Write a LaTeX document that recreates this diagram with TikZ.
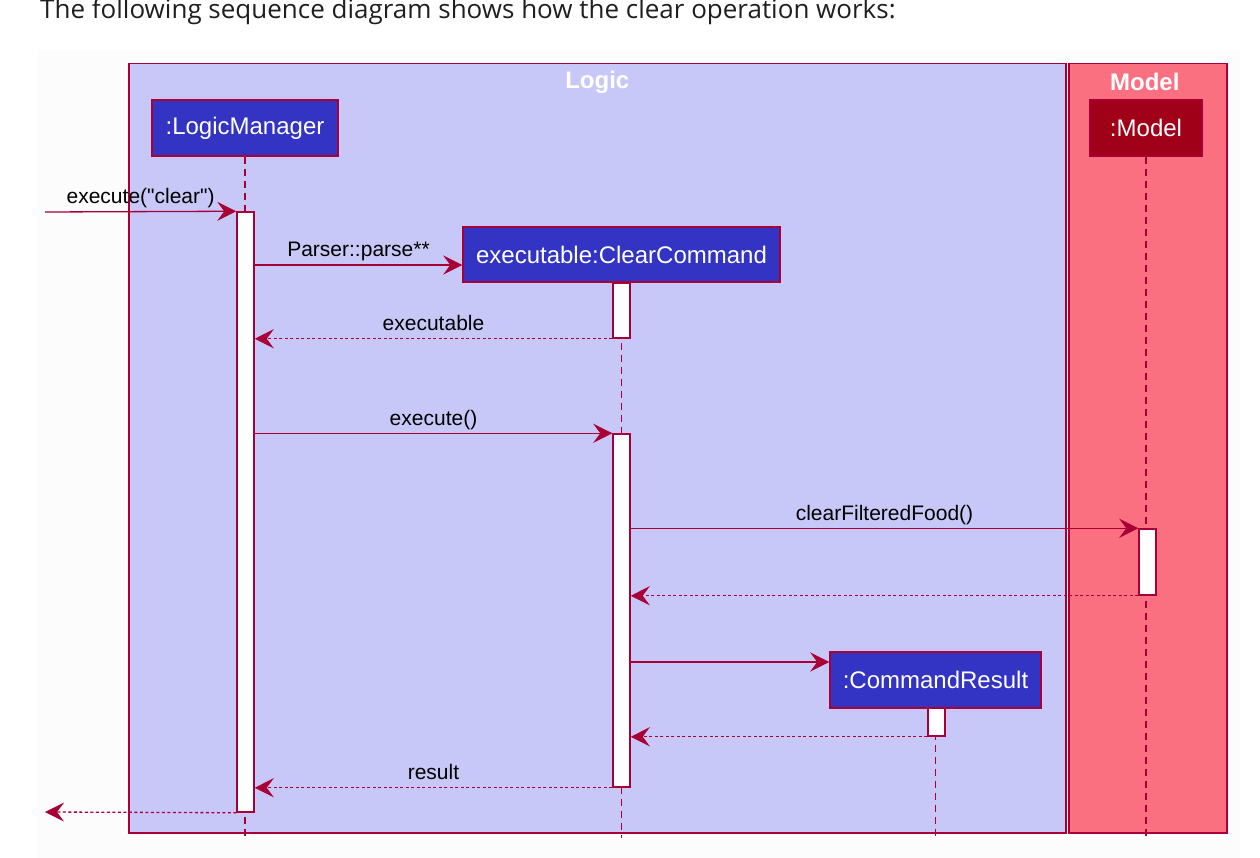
\documentclass[tikz,border=0pt]{standalone}
\usepackage{fontspec}
\setmainfont{Liberation Sans}
\newfontfamily\umlfont{Liberation Sans}
\newfontfamily\headfont{Open Sans}
\usetikzlibrary{arrows.meta}
\definecolor{umlred}{HTML}{A80036}
\definecolor{logicfill}{HTML}{C8C8F8}
\definecolor{modelfill}{HTML}{FA7080}
\definecolor{umlblue}{HTML}{3333C4}
\definecolor{umldark}{HTML}{A00018}
\begin{document}
\begin{tikzpicture}
		[x=1pt,y=-1pt,
		mybox/.style={draw=umlred,line width=1.5pt,fill=umlblue,text=white,inner sep=0pt,font=\umlfont\fontsize{24}{28}\selectfont},
		mygroup/.style={draw=umlred,line width=1.5pt,inner sep=0pt,anchor=north west},
		myact/.style={draw=umlred,line width=1.5pt,fill=white,inner sep=0pt,minimum width=17,minimum height=#1},
		mymsg/.style={draw=umlred,line width=1.3pt,-{Stealth[length=19pt,width=19pt,inset=7pt]}},
		myret/.style={mymsg,dash pattern=on 3pt off 2.5pt},
		mylife/.style={draw=umlred,line width=1.2pt,dash pattern=on 7pt off 5pt},
		mylabel/.style={midway,anchor=base,yshift=8pt,inner sep=0pt,font=\umlfont\fontsize{21}{25}\selectfont}]
		\useasboundingbox (0,0) rectangle (1260,858);
		\fill[white!99!black] (38,50) rectangle (1240,858);
		\node[anchor=base west,inner sep=0pt,text=black!88,font=\headfont\fontsize{26}{30}\selectfont,name=head] at (40,19)
			{The following sequence diagram shows how the clear operation works:};
		% groups
		\node[mygroup,fill=logicfill,minimum width=937,minimum height=769,name=logic] at (128,63) {};
		\node[mygroup,fill=modelfill,minimum width=158,minimum height=769,name=model] at (1068,63) {};
		\node[text=white,font=\umlfont\bfseries\fontsize{24}{28}\selectfont] at (logic.north) [yshift=-19pt] {Logic};
		\node[text=white,font=\umlfont\bfseries\fontsize{24}{28}\selectfont] at (model.north) [yshift=-19pt,xshift=-3pt] {Model};
		% participants
		\node[mybox,minimum width=186,minimum height=56,name=lm] at (245,128) {:LogicManager};
		\node[mybox,fill=umldark,minimum width=112,minimum height=56,name=md] at (1146,128) {:Model};
		\node[mybox,minimum width=317,minimum height=55,name=cc] at (621.5,254.5) {executable:ClearCommand};
		\node[mybox,minimum width=211,minimum height=56,name=cr] at (935.5,680) {:CommandResult};
		% lifelines
		\coordinate (bottom) at (0,838);
		\foreach \p in {lm,cc,cr,md}
		{
			\draw[mylife] (\p.south) -- (\p.south |- bottom);
		}
		% activations
		\node[myact=600,name=lmA] at (245.5,512) {};
		\node[myact=55,name=ccA1] at (621.5,310.5) {};
		\node[myact=353,name=ccA2] at (621.5,610.5) {};
		\node[myact=66,name=mdA] at (1147.5,562) {};
		\node[myact=28,name=crA] at (936.5,722) {};
		% messages
		\coordinate (start) at (45,212);
		\coordinate (end) at (45,812);
		\draw[mymsg] (start) -- (lmA.north west) node[mylabel]{execute("clear")};
		\draw[mymsg] ([yshift=-10.5pt]cc.west -| lmA.east) -- ([yshift=-10.5pt]cc.west) node[mylabel]{Parser::parse**};
		\draw[myret] (ccA1.south west) -- (ccA1.south west -| lmA.east) node[mylabel]{executable};
		\draw[mymsg] (ccA2.north west -| lmA.east) -- (ccA2.north west) node[mylabel]{execute()};
		\draw[mymsg] (mdA.north west -| ccA2.east) -- (mdA.north west) node[mylabel]{clearFilteredFood()};
		\draw[myret] (mdA.south west) -- (mdA.south west -| ccA2.east);
		\draw[mymsg] ([yshift=18pt]cr.west -| ccA2.east) -- ([yshift=18pt]cr.west);
		\draw[myret] (crA.south west) -- (crA.south west -| ccA2.east);
		\draw[myret] (ccA2.south west) -- (ccA2.south west -| lmA.east) node[mylabel]{result};
		\draw[myret] (lmA.south west) -- (end);
	\end{tikzpicture}
\end{document}
